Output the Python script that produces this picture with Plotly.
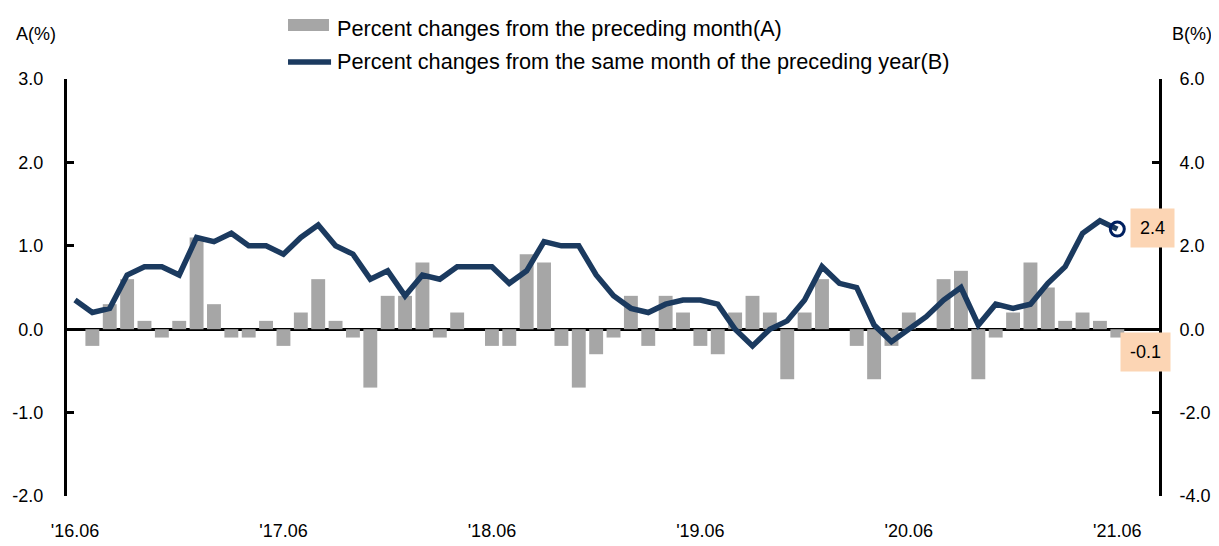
import plotly.graph_objects as go

# categories: monthly, '16.06 ... '21.06
months = []
yy, mm = 16, 6
for _ in range(61):
    months.append(f"{yy:02d}.{mm:02d}")
    mm += 1
    if mm > 12:
        mm = 1
        yy += 1

tick_vals = ["16.06", "17.06", "18.06", "19.06", "20.06", "21.06"]
tick_text = ["'16.06", "'17.06", "'18.06", "'19.06", "'20.06", "'21.06"]

left_ticks = [-2, -1, 0, 1, 2, 3]
right_ticks = [-4, -2, 0, 2, 4, 6]

# A: percent changes from the preceding month (left axis)
mom = [0.0, -0.2, 0.3, 0.6, 0.1, -0.1, 0.1, 1.1, 0.3, -0.1,
       -0.1, 0.1, -0.2, 0.2, 0.6, 0.1, -0.1, -0.7, 0.4, 0.4,
       0.8, -0.1, 0.2, 0.0, -0.2, -0.2, 0.9, 0.8, -0.2, -0.7,
       -0.3, -0.1, 0.4, -0.2, 0.4, 0.2, -0.2, -0.3, 0.2, 0.4,
       0.2, -0.6, 0.2, 0.6, 0.0, -0.2, -0.6, -0.2, 0.2, 0.0,
       0.6, 0.7, -0.6, -0.1, 0.2, 0.8, 0.5, 0.1, 0.2, 0.1,
       -0.1]

# B: percent changes from the same month of the preceding year (right axis)
yoy = [0.7, 0.4, 0.5, 1.3, 1.5, 1.5, 1.3, 2.2, 2.1, 2.3,
       2.0, 2.0, 1.8, 2.2, 2.5, 2.0, 1.8, 1.2, 1.4, 0.8,
       1.3, 1.2, 1.5, 1.5, 1.5, 1.1, 1.4, 2.1, 2.0, 2.0,
       1.3, 0.8, 0.5, 0.4, 0.6, 0.7, 0.7, 0.6, 0.0, -0.4,
       0.0, 0.2, 0.7, 1.5, 1.1, 1.0, 0.1, -0.3, 0.0, 0.3,
       0.7, 1.0, 0.1, 0.6, 0.5, 0.6, 1.1, 1.5, 2.3, 2.6,
       2.4]

name_a = "Percent changes from the preceding month(A)"
name_b = "Percent changes from the same month of the preceding year(B)"

BAR_COLOR = "#a6a6a6"
LINE_COLOR = "#1b3a5f"
BOX_COLOR = "#fcd5b4"
FONT = "Liberation Sans, Arial, sans-serif"

last = len(months) - 1

fig = go.Figure()
fig.add_trace(go.Bar(x=months, y=mom, name=name_a, marker_color=BAR_COLOR,
                     marker_line_width=0, yaxis="y", showlegend=False))
fig.add_trace(go.Scatter(x=months, y=yoy, name=name_b, mode="lines",
                         line=dict(color=LINE_COLOR, width=5.5), yaxis="y2",
                         showlegend=False))
fig.add_trace(go.Scatter(x=[months[-1]], y=[yoy[-1]], mode="markers",
                         marker=dict(symbol="circle-open", size=14, color="#002060",
                                     line=dict(width=3, color="#002060")),
                         yaxis="y2", showlegend=False, hoverinfo="skip"))

# page body has an 8px default margin, so the figure is sized/offset for it
fig.update_layout(
    width=1211, height=538,
    margin=dict(l=59, r=60, t=71, b=50),
    paper_bgcolor="white", plot_bgcolor="white",
    bargap=0.2,
    font=dict(family=FONT, color="black", size=18),
    xaxis=dict(type="category", categoryorder="array", categoryarray=months,
               range=[-0.46, 62.4], tickmode="array", tickvals=tick_vals,
               ticktext=tick_text, ticks="", showline=False, showgrid=False,
               zeroline=False, ticklabelstandoff=22, automargin=False,
               tickfont=dict(family=FONT, size=18)),
    yaxis=dict(range=[-2, 3], tickmode="array", tickvals=left_ticks,
               ticktext=[f"{v:.1f}" for v in left_ticks], showgrid=False,
               showline=True, linecolor="black", linewidth=3,
               ticks="inside", ticklen=7, tickwidth=3, tickcolor="black",
               zeroline=True, zerolinecolor="black", zerolinewidth=3,
               ticklabelstandoff=17, automargin=False,
               tickfont=dict(family=FONT, size=18)),
    yaxis2=dict(range=[-4, 6], tickmode="array", tickvals=right_ticks,
                ticktext=[f"{v:.1f}" for v in right_ticks], showgrid=False,
                overlaying="y", side="right",
                showline=True, linecolor="black", linewidth=3,
                ticks="inside", ticklen=7, tickwidth=3, tickcolor="black",
                zeroline=False, ticklabelstandoff=14, automargin=False,
                tickfont=dict(family=FONT, size=18)),
)

# manual legend
fig.add_shape(type="rect", xref="paper", yref="paper",
              x0=0.2024, x1=0.2399, y0=1.115, y1=1.144,
              fillcolor=BAR_COLOR, line_width=0)
fig.add_shape(type="line", xref="paper", yref="paper",
              x0=0.2024, x1=0.2418, y0=1.041, y1=1.041,
              line=dict(color=LINE_COLOR, width=5.5))
fig.add_annotation(text=name_a, xref="paper", yref="paper", x=0.2454, y=1.122,
                   xanchor="left", yanchor="middle", showarrow=False,
                   font=dict(family=FONT, size=21.7))
fig.add_annotation(text=name_b, xref="paper", yref="paper", x=0.2454, y=1.041,
                   xanchor="left", yanchor="middle", showarrow=False,
                   font=dict(family=FONT, size=21.7))

# axis titles
fig.add_annotation(text="A(%)", xref="paper", yref="paper", x=-0.0284, y=1.108,
                   xanchor="center", yanchor="middle", showarrow=False,
                   font=dict(family=FONT, size=18))
fig.add_annotation(text="B(%)", xref="paper", yref="paper", x=1.0302, y=1.108,
                   xanchor="center", yanchor="middle", showarrow=False,
                   font=dict(family=FONT, size=18))

# value labels for latest month
fig.add_annotation(text=f"{yoy[-1]:.1f}", x=last, y=yoy[-1], xref="x", yref="y2",
                   xshift=35, yshift=1, showarrow=False, bgcolor=BOX_COLOR,
                   borderpad=9, font=dict(family=FONT, size=18))
fig.add_annotation(text=f"{mom[-1]:.1f}", x=last, y=mom[-1], xref="x", yref="y",
                   xshift=28, yshift=-14, showarrow=False, bgcolor=BOX_COLOR,
                   borderpad=9, font=dict(family=FONT, size=18))

fig.write_html("out.html")
